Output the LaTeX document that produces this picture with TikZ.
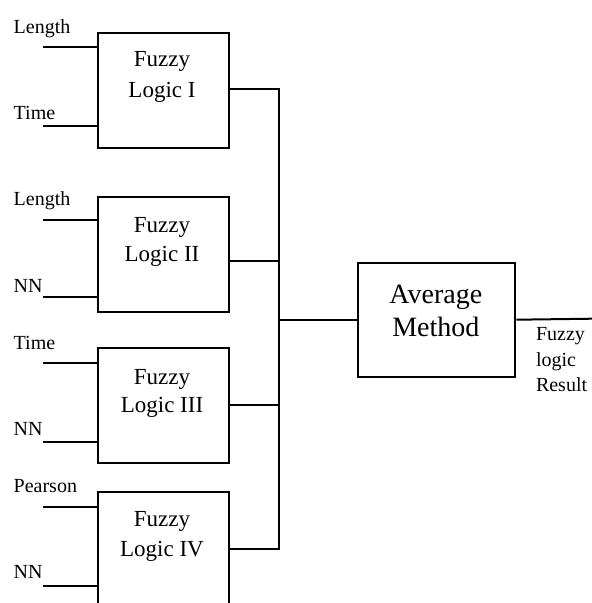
\documentclass[tikz,border=0pt]{standalone}
\usepackage{fontspec}
\setmainfont{Liberation Serif}
\begin{document}
\begin{tikzpicture}[x=1pt,y=-1pt,line width=2pt,
  blk/.style={draw,line width=2pt,minimum width=131pt,minimum height=115pt,inner sep=0pt,anchor=north west},
  avgblk/.style={draw,line width=2pt,minimum width=157pt,minimum height=114pt,inner sep=0pt,anchor=north west},
  blktxt/.style={inner sep=0pt,anchor=base,font=\fontsize{23}{28}\selectfont},
  avgtxt/.style={inner sep=0pt,anchor=base,font=\fontsize{28}{33}\selectfont},
  inlbl/.style={inner sep=0pt,anchor=base west,font=\fontsize{20}{24}\selectfont},
  wire/.style={line width=2pt}]
\useasboundingbox (0,0) rectangle (592,603);

% fuzzy logic blocks
\node[blk] (b1) at (96.5,32) {};
\node[blk] (b2) at (96.5,195.7) {};
\node[blk] (b3) at (96.5,347.3) {};
\node[blk] (b4) at (96.5,491) {};
\node[avgblk] (avg) at (357.3,261.7) {};

% block captions
\node[blktxt] (t1a) at (162,66.7) {Fuzzy};
\node[blktxt] (t1b) at (162,97) {Logic I};
\node[blktxt] (t2a) at (162,232.7) {Fuzzy};
\node[blktxt] (t2b) at (162,261.7) {Logic II};
\node[blktxt] (t3a) at (162,384) {Fuzzy};
\node[blktxt] (t3b) at (162,412.7) {Logic III};
\node[blktxt] (t4a) at (162,526.7) {Fuzzy};
\node[blktxt] (t4b) at (162,556) {Logic IV};
\node[avgtxt] (ta) at (435.8,303.3) {Average};
\node[avgtxt] (tb) at (435.8,336) {Method};

% input labels
\node[inlbl] (l1a) at (12.7,33) {Length};
\node[inlbl] (l1b) at (12.7,119.3) {Time};
\node[inlbl] (l2a) at (12.7,205.7) {Length};
\node[inlbl] (l2b) at (12.7,292.7) {NN};
\node[inlbl] (l3a) at (12.7,349.3) {Time};
\node[inlbl] (l3b) at (12.7,435) {NN};
\node[inlbl] (l4a) at (12.7,492.7) {Pearson};
\node[inlbl] (l4b) at (12.7,578.3) {NN};

% input wires
\coordinate (i1a) at (43,47.3);
\coordinate (i1b) at (43,125.7);
\coordinate (i2a) at (43,220);
\coordinate (i2b) at (43,297.3);
\coordinate (i3a) at (43,363.3);
\coordinate (i3b) at (43,441.7);
\coordinate (i4a) at (43,506.7);
\coordinate (i4b) at (43,585.7);
\foreach \k/\b in {i1a/b1,i1b/b1,i2a/b2,i2b/b2,i3a/b3,i3b/b3,i4a/b4,i4b/b4}
  \draw[wire] (\k) -- (\k -| \b.west);

% outputs joined on a common bus
\coordinate (o1) at (227.5,89);
\coordinate (o2) at (227.5,260.7);
\coordinate (o3) at (227.5,405);
\coordinate (o4) at (227.5,549);
\coordinate (bus1) at (279,89);
\coordinate (bus4) at (279,549);
\draw[wire] (o1) -- (bus1) -- (bus4) -- (o4);
\draw[wire] (o2) -- (o2 -| bus1);
\draw[wire] (o3) -- (o3 -| bus1);
\draw[wire] (avg.west -| bus1) -- (avg.west);

% result
\coordinate (res) at (592,318.7);
\draw[wire] (avg.east) -- (res);
\node[inlbl] (r1) at (535,340) {Fuzzy};
\node[inlbl] (r2) at (535,366.7) {logic};
\node[inlbl] (r3) at (535,391.7) {Result};
\end{tikzpicture}
\end{document}
